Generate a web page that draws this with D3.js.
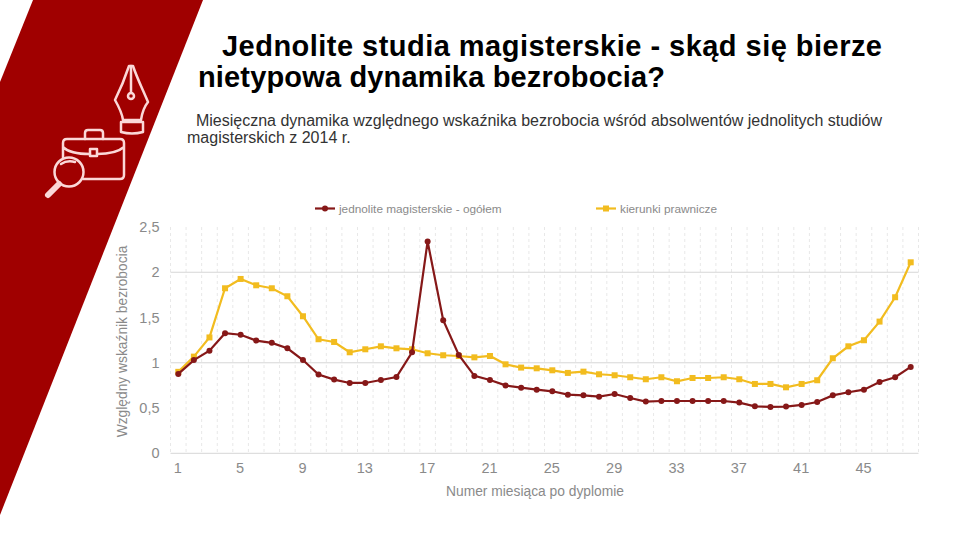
<!DOCTYPE html>
<html>
<head>
<meta charset="utf-8">
<script src="https://cdn.jsdelivr.net/npm/d3@7"></script>
<style>
  html, body { margin: 0; padding: 0; background: #fff; }
  svg { display: block; font-family: "Liberation Sans", Arial, sans-serif; }
  .axis text { fill: #8a8a8a; font-size: 14.5px; }
  .axis path, .axis line { stroke: none; }
</style>
</head>
<body>
<svg id="graf" width="960" height="540"></svg>
<script>
// Datos
const miesiace = d3.range(1, 49)
const ogolem = [0.877, 1.03, 1.134, 1.326, 1.31, 1.245, 1.22, 1.16, 1.03, 0.87, 0.814, 0.777,
  0.777, 0.81, 0.843, 1.116, 2.34, 1.47, 1.087, 0.855, 0.81, 0.75, 0.725, 0.703,
  0.685, 0.648, 0.64, 0.626, 0.655, 0.611, 0.571, 0.578, 0.578, 0.578, 0.578, 0.578,
  0.56, 0.519, 0.512, 0.516, 0.534, 0.567, 0.64, 0.674, 0.703, 0.788, 0.84, 0.954]
const prawnicze = [0.9, 1.068, 1.28, 1.823, 1.926, 1.856, 1.823, 1.735, 1.514, 1.26, 1.23, 1.116,
  1.149, 1.182, 1.16, 1.149, 1.105, 1.083, 1.075, 1.06, 1.075, 0.983, 0.947, 0.939,
  0.917, 0.888, 0.902, 0.873, 0.862, 0.84, 0.818, 0.84, 0.796, 0.832, 0.832, 0.84,
  0.818, 0.766, 0.766, 0.729, 0.766, 0.807, 1.05, 1.182, 1.249, 1.455, 1.724, 2.11]
const yTicks = [0, 0.5, 1, 1.5, 2, 2.5]
const xTicks = miesiace.filter((d) => (d - 1) % 4 === 0)
const tytul = ["Jednolite studia magisterskie - skąd się bierze", "nietypowa dynamika bezrobocia?"]
const podtytul = ["Miesięczna dynamika względnego wskaźnika bezrobocia wśród absolwentów jednolitych studiów",
  "magisterskich z 2014 r."]

const ciemny = "#861818"
const zolty = "#f2bc1f"
const svg = d3.select("#graf")

// Pasek i ikony
svg.append("path").attr("d", "M33,0H203L0,515V82Z").attr("fill", "#a00000")

const ikony = svg.append("g").attr("fill", "none").attr("stroke", "#fbd8d8").attr("stroke-width", 2.5)
  .attr("stroke-linejoin", "round").attr("stroke-linecap", "round")
ikony.append("path").attr("d", "M129,66H133C137,78 143,90 148,102C144,107 142,113 141,120H123C122,113 119,107 115,100C120,90 125,78 129,66Z")
ikony.append("path").attr("d", "M131,66V92")
ikony.append("circle").attr("cx", 131).attr("cy", 96).attr("r", 3)
ikony.append("path").attr("d", "M121,122H143V132Q132,135 121,132Z")
ikony.append("path").attr("d", "M85,139V133Q85,130 88,130H100Q103,130 103,133V139")
ikony.append("path").attr("d", "M83,179H120Q124,179 124,175V143Q124,139 120,139H67Q63,139 63,143V158M63,147Q70,154 90,154M97,154Q116,154 124,147")
ikony.append("rect").attr("x", 90).attr("y", 149).attr("width", 7).attr("height", 7)
ikony.append("circle").attr("cx", 69).attr("cy", 172).attr("r", 14.5)
ikony.append("path").attr("d", "M61,164Q67,160 75,162")
ikony.append("path").attr("d", "M59,184L48,195").attr("stroke-width", 6)

// Títulos
const t = svg.append("g").attr("font-weight", "bold").attr("font-size", 29).attr("fill", "#000")
t.append("text").attr("x", 222).attr("y", 56).attr("textLength", 660).text(tytul[0])
t.append("text").attr("x", 198).attr("y", 87).attr("textLength", 467).text(tytul[1])
const s = svg.append("g").attr("font-size", 16).attr("fill", "#333")
s.append("text").attr("x", 196).attr("y", 126).attr("textLength", 686).text(podtytul[0])
s.append("text").attr("x", 187).attr("y", 143).text(podtytul[1])

// Escaladores
const x = d3.scaleBand().domain(miesiace).range([170.5, 918.5])
const y = d3.scaleLinear().domain([0, 2.5]).range([453.3, 227])
const xc = (d) => x(d) + x.bandwidth() / 2

// Rejilla
svg.append("g").selectAll("line").data(miesiace.concat([49]))
  .join("line")
  .attr("x1", (d) => (d === 49 ? x.range()[1] : x(d)))
  .attr("x2", (d) => (d === 49 ? x.range()[1] : x(d)))
  .attr("y1", y(2.5)).attr("y2", y(0))
  .attr("stroke", "#e8e8e8").attr("stroke-dasharray", "3,3")
svg.append("g").selectAll("line").data(yTicks.filter((d) => d === 0 || d === 1 || d === 2))
  .join("line")
  .attr("x1", x.range()[0]).attr("x2", x.range()[1])
  .attr("y1", (d) => y(d)).attr("y2", (d) => y(d))
  .attr("stroke", "#d6d6d6")

// Ejes
svg.append("g").attr("class", "axis").attr("transform", `translate(-0.5, ${y(0)})`)
  .call(d3.axisBottom(x).tickValues(xTicks).tickSize(0).tickPadding(9))
svg.append("g").attr("class", "axis").attr("transform", `translate(${x.range()[0]}, 0)`)
  .call(d3.axisLeft(y).tickValues(yTicks).tickSize(0).tickPadding(11)
    .tickFormat((d) => String(d).replace(".", ",")))

svg.append("text").attr("x", 535).attr("y", 496).attr("text-anchor", "middle")
  .attr("font-size", 13.8).attr("fill", "#8a8a8a").text("Numer miesiąca po dyplomie")
svg.append("text").attr("transform", "translate(127, 341.5) rotate(-90)").attr("text-anchor", "middle")
  .attr("font-size", 13.8).attr("fill", "#8a8a8a").text("Względny wskaźnik bezrobocia")

// Series
const linea = d3.line().x((d, i) => xc(miesiace[i])).y((d) => y(d))
svg.append("path").datum(prawnicze).attr("d", linea).attr("fill", "none").attr("stroke", zolty).attr("stroke-width", 2.2)
svg.selectAll(".pr").data(prawnicze).join("rect").attr("class", "pr")
  .attr("x", (d, i) => xc(miesiace[i]) - 3).attr("y", (d) => y(d) - 3)
  .attr("width", 6).attr("height", 6).attr("fill", zolty)
svg.append("path").datum(ogolem).attr("d", linea).attr("fill", "none").attr("stroke", ciemny).attr("stroke-width", 2.2)
svg.selectAll(".og").data(ogolem).join("circle").attr("class", "og")
  .attr("cx", (d, i) => xc(miesiace[i])).attr("cy", (d) => y(d)).attr("r", 3).attr("fill", ciemny)

// Leyenda
const ley = svg.append("g").attr("font-size", 11.8).attr("fill", "#8a8a8a")
ley.append("line").attr("x1", 315).attr("x2", 335).attr("y1", 208.5).attr("y2", 208.5).attr("stroke", ciemny).attr("stroke-width", 2.2)
ley.append("circle").attr("cx", 325).attr("cy", 208.5).attr("r", 3).attr("fill", ciemny)
ley.append("text").attr("x", 339).attr("y", 212.5).text("jednolite magisterskie - ogółem")
ley.append("line").attr("x1", 596).attr("x2", 616).attr("y1", 208.5).attr("y2", 208.5).attr("stroke", zolty).attr("stroke-width", 2.2)
ley.append("rect").attr("x", 603).attr("y", 205.5).attr("width", 6).attr("height", 6).attr("fill", zolty)
ley.append("text").attr("x", 620).attr("y", 212.5).text("kierunki prawnicze")
</script>
</body>
</html>
